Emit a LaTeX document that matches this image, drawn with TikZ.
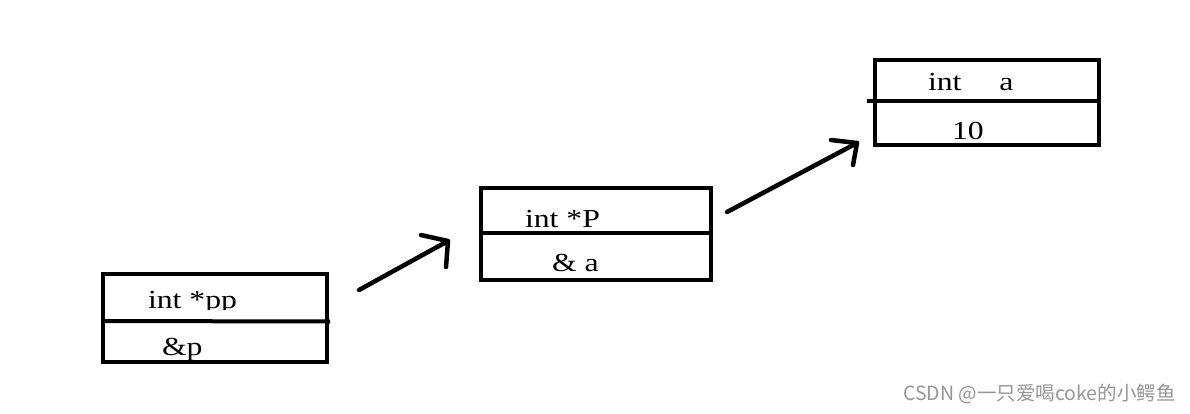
\documentclass[tikz,border=0pt]{standalone}
\usepackage{fontspec}
\usepackage{graphicx}
\setmainfont{Liberation Serif}
\newfontfamily\cjk{Noto Sans CJK SC}
\definecolor{wmgray}{RGB}{150,150,150}
\newcommand{\wtxt}[1]{\scalebox{1.22}[1]{#1}}
\tikzset{
  membox/.style={draw=black, line width=4pt, fill=none},
  divider/.style={draw=black, line width=4pt},
  lbl/.style={inner sep=0pt, outer sep=0pt, anchor=base west, font=\fontsize{26}{26}\selectfont},
  pen/.style={draw=black, line width=4.5pt, line cap=round, line join=round},
  wm/.style={inner sep=0pt, anchor=base west, text=wmgray, font=\cjk\fontsize{19.5}{19.5}\selectfont}
}
\begin{document}
\begin{tikzpicture}[x=1pt, y=-1pt]
\useasboundingbox (0,0) rectangle (1190,413);
% box 1 : int *pp
\draw[membox] (102.5,274) rectangle (327,362) ;
\node[inner sep=0pt] (b1) at (214.75,318.5) {};
\begin{scope}
\clip (105,277) rectangle (325,309);
\node[lbl] (t1) at (148,308) {\wtxt{int *pp}};
\end{scope}
\draw[divider] (102.5,321) -- (330,321.5);
\node[lbl] (v1) at (162,355) {\wtxt{\&p}};
% box 2 : int *P
\draw[membox] (480.5,187.5) rectangle (710.5,279.5);
\node[inner sep=0pt] (b2) at (595.5,233.5) {};
\draw[divider] (480.5,232.5) -- (710.5,232.5);
\node[lbl] (t2) at (525,227) {\wtxt{int *P}};
\node[lbl] (v2) at (552,271) {\wtxt{\& a}};
% box 3 : int a
\draw[membox] (874.5,59.5) rectangle (1098.5,144.5);
\node[inner sep=0pt] (b3) at (986.5,102) {};
\draw[divider] (867,100.5) -- (1098.5,100.5);
\node[lbl] (t3) at (928,90) {\wtxt{int\hspace{31pt}a}};
\node[lbl] (v3) at (952,139) {\wtxt{10}};
% arrows
\coordinate (a1s) at (359,290);
\coordinate (a1t) at (448,241);
\coordinate (a1h1) at (421,235);
\coordinate (a1h2) at (446,267);
\draw[pen] (a1s) -- (a1t);
\draw[pen] (a1h1) -- (a1t) -- (a1h2);
\coordinate (a2s) at (727,212);
\coordinate (a2t) at (857,143);
\coordinate (a2h1) at (831,140);
\coordinate (a2h2) at (853,165);
\draw[pen] (a2s) -- (a2t);
\draw[pen] (a2h1) -- (a2t) -- (a2h2);
% watermark
\node[wm] (wmk) at (903,400) {CSDN @一只爱喝coke的小鳄鱼};
\end{tikzpicture}
\end{document}
